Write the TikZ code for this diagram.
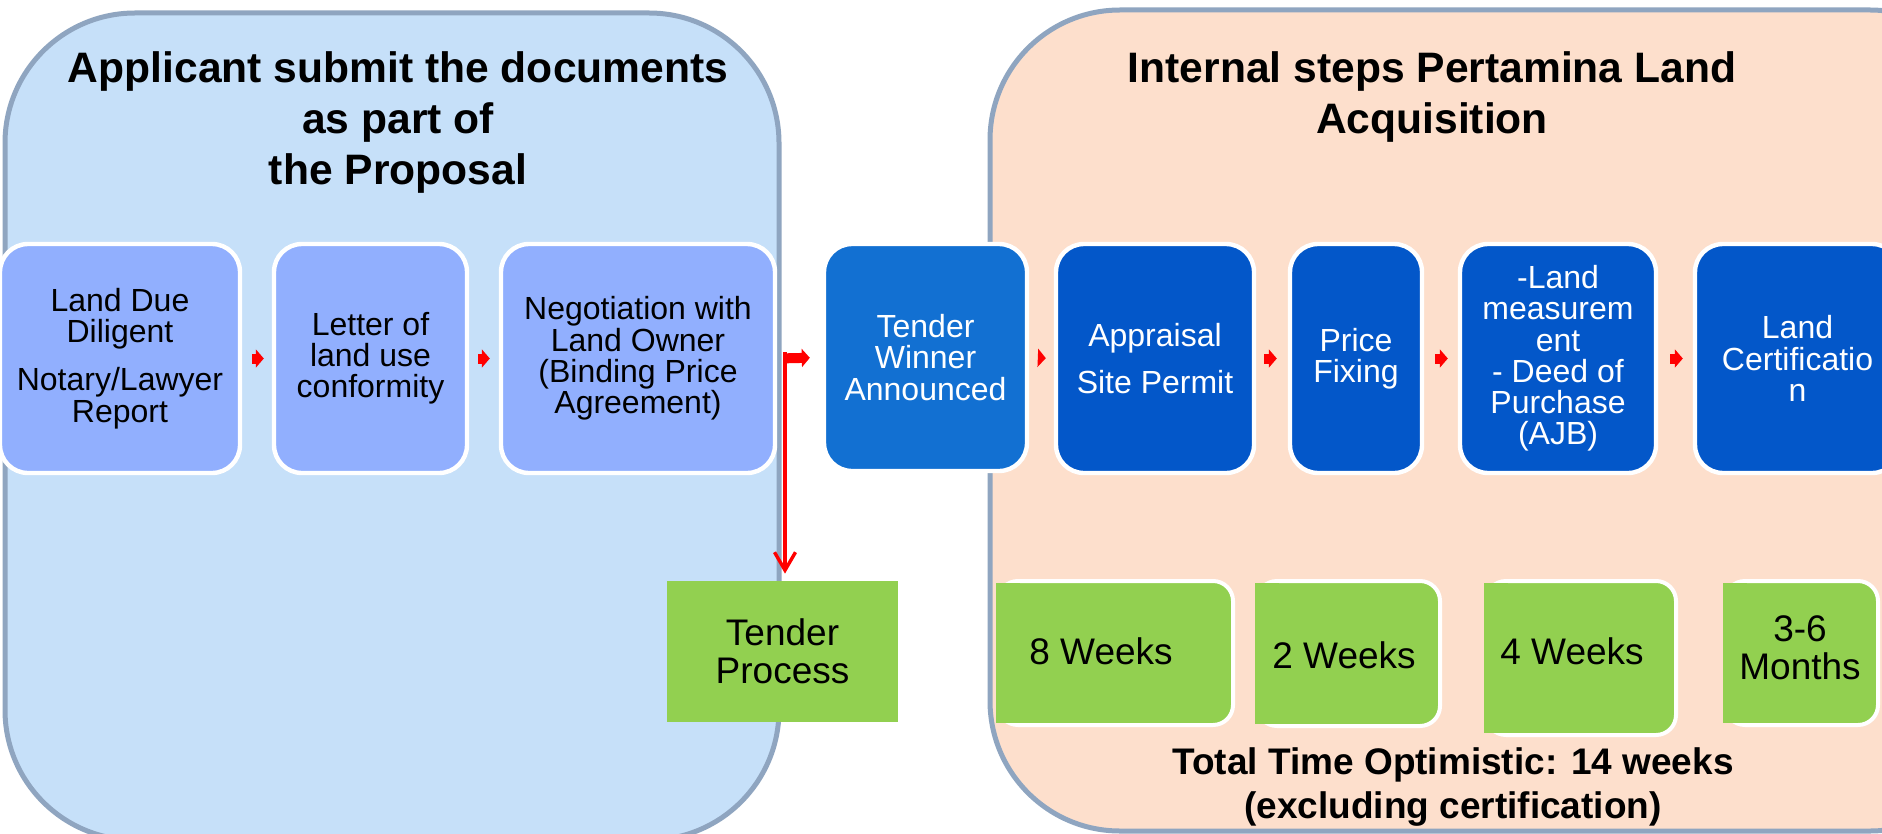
\documentclass[tikz,border=0pt]{standalone}
\usepackage{fontspec}
\setmainfont{Liberation Sans}
\usetikzlibrary{arrows.meta,calc}
\definecolor{panelLfill}{HTML}{C6E0F9}
\definecolor{panelRfill}{HTML}{FDDFCC}
\definecolor{panelBorder}{HTML}{8FA5C0}
\definecolor{boxL}{HTML}{91AFFE}
\definecolor{boxMid}{HTML}{1270D2}
\definecolor{boxDark}{HTML}{0357C9}
\definecolor{wkgreen}{HTML}{92D050}
\begin{document}
\begin{tikzpicture}[x=0.5pt,y=-0.5pt,
  panel/.style={draw=panelBorder, line width=2.5pt, rounded corners=65pt},
  stepbox/.style={draw=white, line width=2.2pt, rounded corners=14pt, align=center,
    inner sep=0pt, minimum height=114.5pt, minimum width=#1,
    font=\fontsize{16}{15.6}\selectfont},
  lightbox/.style={stepbox=#1, fill=boxL, text=black},
  midbox/.style={stepbox=#1, fill=boxMid, text=white},
  darkbox/.style={stepbox=#1, fill=boxDark, text=white},
  weekbox/.style={draw=white, line width=2pt, rounded corners=10pt, fill=wkgreen,
    align=center, inner sep=0pt, font=\fontsize{18.5}{19}\selectfont},
  weektext/.style={align=center, font=\fontsize{18.5}{19}\selectfont},
  titletext/.style={align=center, font=\bfseries\fontsize{21.3}{25.5}\selectfont},
  redarr/.style={draw=red, line width=5pt, -{Triangle[length=4pt,width=9pt]}},
  redline/.style={draw=red, line width=1.7pt, -{Straight Barb[length=9pt,width=10.5pt]}}
]
\clip (0,0) rectangle (1882,834);
\useasboundingbox (0,0) rectangle (1882,834);
\fill[white] (0,0) rectangle (1882,834);

% panels
\draw[panel, fill=panelLfill] (5,13) rectangle (779,840);
\draw[panel, fill=panelRfill] (990,10) rectangle (2000,831);

% titles
\node[titletext] (tl) at (398,122) {Applicant submit the documents\\as part of\\the Proposal};
\node[titletext] (tr) at (1432,97) {Internal steps Pertamina Land\\Acquisition};

% step boxes
\node[lightbox=120pt] (b1) at (120,358.5) {Land Due\\Diligent\\[8.5pt]Notary/Lawyer\\Report};
\node[lightbox=96.5pt] (b2) at (370.5,358.5) {Letter of\\land use\\conformity};
\node[lightbox=137pt] (b3) at (638,358.5) {Negotiation with\\Land Owner\\(Binding Price\\Agreement)};
\node[midbox=101.5pt, minimum height=113.5pt] (b4) at (925.5,357.5) {Tender\\Winner\\Announced};
\node[darkbox=99pt] (b5) at (1155,358.5) {Appraisal\\[8pt]Site Permit};
\node[darkbox=66pt] (b6) at (1356,358.5) {Price\\Fixing};
\node[darkbox=98pt] (b7) at (1558,358.5) {-Land\\measurem\\ent\\- Deed of\\Purchase\\(AJB)};
\node[darkbox=102.5pt] (b8) at (1797.5,358.5) {Land\\Certificatio\\n};

% tender process box
\node[fill=wkgreen, minimum width=115.5pt, minimum height=70.5pt, inner sep=0pt,
      align=center, font=\fontsize{18.5}{19}\selectfont] (tp) at (782.5,651.5) {Tender\\Process};

% week boxes (sharp left side, white border on top, right and bottom)
\node[weekbox, minimum width=117.5pt, minimum height=72pt] (w1) at (1115.5,653) {};
\node[weekbox, minimum width=91.5pt, minimum height=72.5pt] (w2) at (1348.5,653.5) {};
\node[weekbox, minimum width=95pt, minimum height=77pt] (w3) at (1581,658) {};
\node[weekbox, minimum width=76.5pt, minimum height=72pt] (w4) at (1801.5,653) {};
\foreach \w in {w1,w2,w3,w4} {
  \fill[wkgreen] ($(\w.north west)+(0,4)$) rectangle ($(\w.south west)+(24,-4)$);
}
\node[weektext] (t1) at (1101,651) {8 Weeks};
\node[weektext] (t2) at (1344,655) {2 Weeks};
\node[weektext] (t3) at (1572,651) {4 Weeks};
\node[weektext] (t4) at (1800,648) {3-6\\Months};

% total time
\node[align=center, font=\bfseries\fontsize{18.5}{21.7}\selectfont] (total) at (1453,787)
  {Total Time Optimistic: 14 weeks\\(excluding certification)};

% connectors
\draw[redarr, shorten <=5pt, shorten >=4pt] (b1.east) -- (b2.west);
\draw[redarr, shorten <=4.5pt, shorten >=4.5pt] (b2.east) -- (b3.west);
\draw[redarr, shorten <=4pt, shorten >=6pt] (b3.east) -- (b4.west);
\coordinate (split) at (785,352);
\draw[redline, shorten >=3.5pt] (split) -- (split |- tp.north);
\draw[redarr, shorten <=4.5pt, shorten >=4pt] (b4.east) -- (b5.west);
\draw[redarr, shorten <=4pt, shorten >=5.5pt] (b5.east) -- (b6.west);
\draw[redarr, shorten <=5.5pt, shorten >=5pt] (b6.east) -- (b7.west);
\draw[redarr, shorten <=6pt, shorten >=5pt] (b7.east) -- (b8.west);
\end{tikzpicture}
\end{document}
